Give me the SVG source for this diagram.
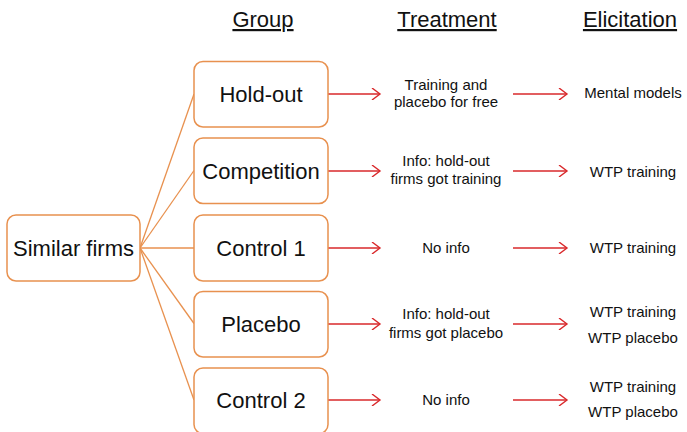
<svg xmlns="http://www.w3.org/2000/svg" width="687" height="432" viewBox="0 0 687 432">
<defs>
<style>
.box{fill:#fff;stroke:#E8914F;stroke-width:1.5}
.lbl{font-family:"Liberation Sans",Arial,sans-serif;font-size:22px;fill:#111;text-anchor:middle}
.sm{font-family:"Liberation Sans",Arial,sans-serif;font-size:15px;fill:#111;text-anchor:middle}
.hd{font-family:"Liberation Sans",Arial,sans-serif;font-size:22px;fill:#111;text-anchor:middle;text-decoration:underline}
.ln{stroke:#E8914F;stroke-width:1.3;fill:none}
.ar{stroke:#D9282B;stroke-width:1.4;fill:none;marker-end:url(#ah)}
</style>
<marker id="ah" markerWidth="12" markerHeight="12" refX="10" refY="6" orient="auto" markerUnits="userSpaceOnUse">
<path d="M2,0 L10,6 L2,12" fill="none" stroke="#D9282B" stroke-width="1.4"/>
</marker>
</defs>
<rect width="687" height="432" fill="#fff"/>
<g id="headers">
<text class="hd" x="263" y="27">Group</text>
<text class="hd" x="447" y="27">Treatment</text>
<text class="hd" x="630" y="27">Elicitation</text>
</g>
<g id="connectors">
<line class="ln" x1="140" y1="248" x2="194" y2="94"/>
<line class="ln" x1="140" y1="248" x2="194" y2="170.5"/>
<line class="ln" x1="140" y1="248" x2="194" y2="248"/>
<line class="ln" x1="140" y1="248" x2="194" y2="323.5"/>
<line class="ln" x1="140" y1="248" x2="194" y2="400"/>
<line class="ar" x1="328" y1="94" x2="380" y2="94"/>
<line class="ar" x1="513" y1="94" x2="567" y2="94"/>
<line class="ar" x1="328" y1="171" x2="380" y2="171"/>
<line class="ar" x1="513" y1="171" x2="567" y2="171"/>
<line class="ar" x1="328" y1="248" x2="380" y2="248"/>
<line class="ar" x1="513" y1="248" x2="567" y2="248"/>
<line class="ar" x1="328" y1="324" x2="380" y2="324"/>
<line class="ar" x1="513" y1="324" x2="567" y2="324"/>
<line class="ar" x1="328" y1="400" x2="380" y2="400"/>
<line class="ar" x1="513" y1="400" x2="567" y2="400"/>
</g>
<g id="similar">
<rect class="box" x="7" y="215" width="133" height="66" rx="9"/>
<text class="lbl" x="73.5" y="256">Similar firms</text>
</g>
<g id="holdout">
<rect class="box" x="194" y="61.5" width="134" height="65.5" rx="9"/>
<text class="lbl" x="261" y="102">Hold-out</text>
</g>
<g id="competition">
<rect class="box" x="194" y="138" width="134" height="65.5" rx="9"/>
<text class="lbl" x="261" y="178.5">Competition</text>
</g>
<g id="control1">
<rect class="box" x="194" y="215" width="134" height="66" rx="9"/>
<text class="lbl" x="261" y="256">Control 1</text>
</g>
<g id="placebo">
<rect class="box" x="194" y="291.5" width="134" height="65.5" rx="9"/>
<text class="lbl" x="261" y="331.5">Placebo</text>
</g>
<g id="control2">
<rect class="box" x="194" y="368" width="134" height="65.5" rx="9"/>
<text class="lbl" x="261" y="408">Control 2</text>
</g>
<g id="t-holdout">
<text class="sm" x="446" y="90">Training and</text>
<text class="sm" x="446" y="107">placebo for free</text>
</g>
<g id="t-competition">
<text class="sm" x="446" y="166">Info: hold-out</text>
<text class="sm" x="446" y="184">firms got training</text>
</g>
<g id="t-control1">
<text class="sm" x="446" y="252.5">No info</text>
</g>
<g id="t-placebo">
<text class="sm" x="446" y="319">Info: hold-out</text>
<text class="sm" x="446" y="337.5">firms got placebo</text>
</g>
<g id="t-control2">
<text class="sm" x="446" y="405">No info</text>
</g>
<g id="e-holdout">
<text class="sm" x="633" y="98">Mental models</text>
</g>
<g id="e-competition">
<text class="sm" x="633" y="176.5">WTP training</text>
</g>
<g id="e-control1">
<text class="sm" x="633" y="252.5">WTP training</text>
</g>
<g id="e-placebo">
<text class="sm" x="633" y="317">WTP training</text>
<text class="sm" x="633" y="343">WTP placebo</text>
</g>
<g id="e-control2">
<text class="sm" x="633" y="392">WTP training</text>
<text class="sm" x="633" y="417">WTP placebo</text>
</g>
</svg>
